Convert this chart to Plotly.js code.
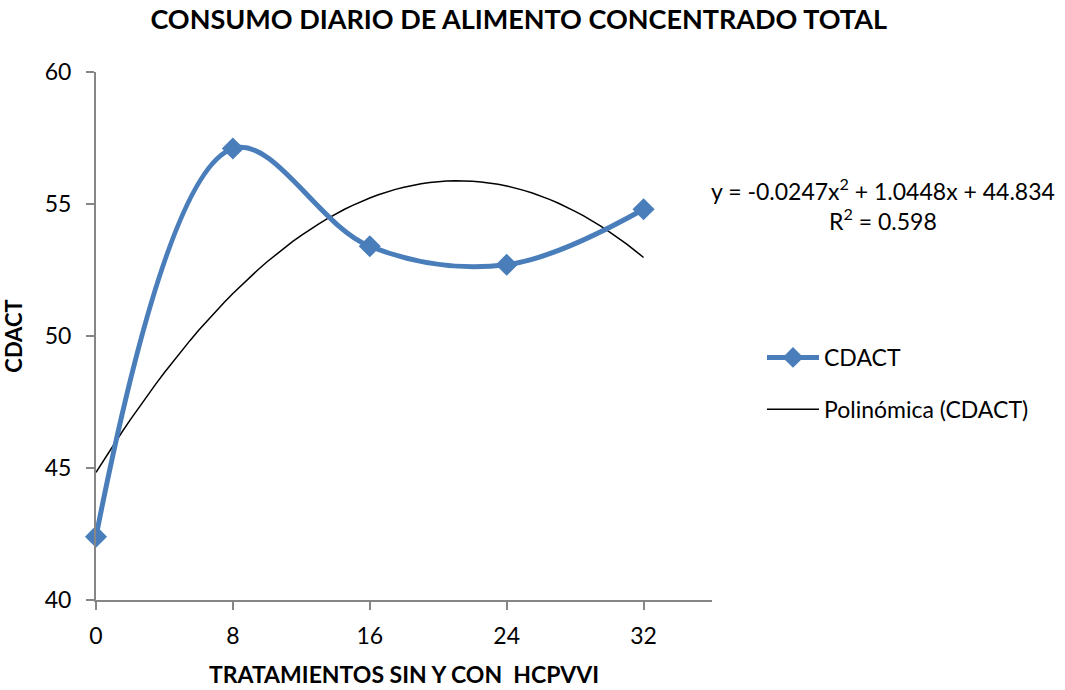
<!DOCTYPE html>
<html>
<head>
<meta charset="utf-8">
<script src="https://cdn.plot.ly/plotly-3.0.1.min.js"></script>
<style>html,body{margin:0;padding:0;background:#fff;}#chart{width:1065px;height:690px;}</style>
</head>
<body>
<div id="chart"></div>
<script>
// Data
var treatments = [0, 8, 16, 24, 32];
var cdact = [42.4, 57.1, 53.4, 52.7, 54.8];
// Polynomial trendline coefficients as printed on the chart: c2, c1, c0
var trendCoef = [-0.0247, 1.0448, 44.834];
var xTicks = [0, 8, 16, 24, 32];
var yTicks = [40, 45, 50, 55, 60];

var FONT = 'Lato, "Open Sans", sans-serif';

var trendX = [], trendY = [];
for (var i = 0; i <= 64; i++) {
  var xv = treatments[0] + (treatments[treatments.length - 1] - treatments[0]) * i / 64;
  trendX.push(xv);
  trendY.push(trendCoef[0] * xv * xv + trendCoef[1] * xv + trendCoef[2]);
}

var traces = [
  {
    x: trendX, y: trendY, name: 'Polinómica (CDACT)', type: 'scatter', mode: 'lines',
    line: {color: '#000000', width: 1.5},
    legendgroup: 'b', legendrank: 2
  },
  {
    x: treatments, y: cdact, name: 'CDACT', type: 'scatter', mode: 'lines+markers',
    line: {color: '#4A7EBB', width: 5, shape: 'spline', smoothing: 1.05},
    marker: {symbol: 'diamond', size: 17, color: '#4A7EBB'},
    cliponaxis: false,
    legendgroup: 'a', legendrank: 1
  }
];

var layout = {
  width: 1065, height: 690,
  margin: {l: 96, r: 353, t: 72, b: 90},
  paper_bgcolor: '#ffffff', plot_bgcolor: '#ffffff',
  font: {family: FONT, size: 23, color: '#000'},
  title: {
    text: '<b>CONSUMO DIARIO DE ALIMENTO CONCENTRADO TOTAL</b>',
    font: {family: FONT, size: 27, color: '#000'},
    xref: 'container', yref: 'container', x: 0.487, y: 0.971, xanchor: 'center', yanchor: 'middle'
  },
  xaxis: {
    range: [0, 36], tickvals: xTicks, ticktext: xTicks.map(String),
    showgrid: false, zeroline: false, showline: true, linecolor: '#868686', linewidth: 2,
    ticks: 'outside', ticklen: 8, tickcolor: '#868686', tickwidth: 2,
    ticklabelstandoff: 6,
    tickfont: {family: FONT, size: 23, color: '#000'},
    title: {text: '<b>TRATAMIENTOS SIN Y CON  HCPVVI</b>', font: {family: FONT, size: 23, color: '#000'}, standoff: 19}
  },
  yaxis: {
    range: [40, 60], tickvals: yTicks, ticktext: yTicks.map(String),
    showgrid: false, zeroline: false, showline: true, linecolor: '#868686', linewidth: 2,
    ticks: 'outside', ticklen: 8, tickcolor: '#868686', tickwidth: 2,
    ticklabelstandoff: 10,
    tickfont: {family: FONT, size: 23, color: '#000'},
    title: {text: '<b>CDACT</b>', font: {family: FONT, size: 22, color: '#000'}, standoff: 18}
  },
  showlegend: true,
  legend: {
    x: (762 - 96) / 616, y: (600 - 336) / 528, xanchor: 'left', yanchor: 'top',
    font: {family: FONT, size: 23, color: '#000'},
    itemwidth: 52,
    traceorder: 'grouped', tracegroupgap: 19, bgcolor: 'rgba(0,0,0,0)'
  },
  annotations: [
    {
      xref: 'paper', yref: 'paper', x: (883 - 96) / 616, y: (600 - 204) / 528,
      xanchor: 'center', yanchor: 'middle', align: 'center', showarrow: false,
      text: 'y = -0.0247x<sup>2</sup> + 1.0448x + 44.834<br>R<sup>2</sup> = 0.598',
      font: {family: FONT, size: 23, color: '#000'}
    }
  ]
};

Plotly.newPlot('chart', traces, layout, {displayModeBar: false, staticPlot: true});
</script>
</body>
</html>
